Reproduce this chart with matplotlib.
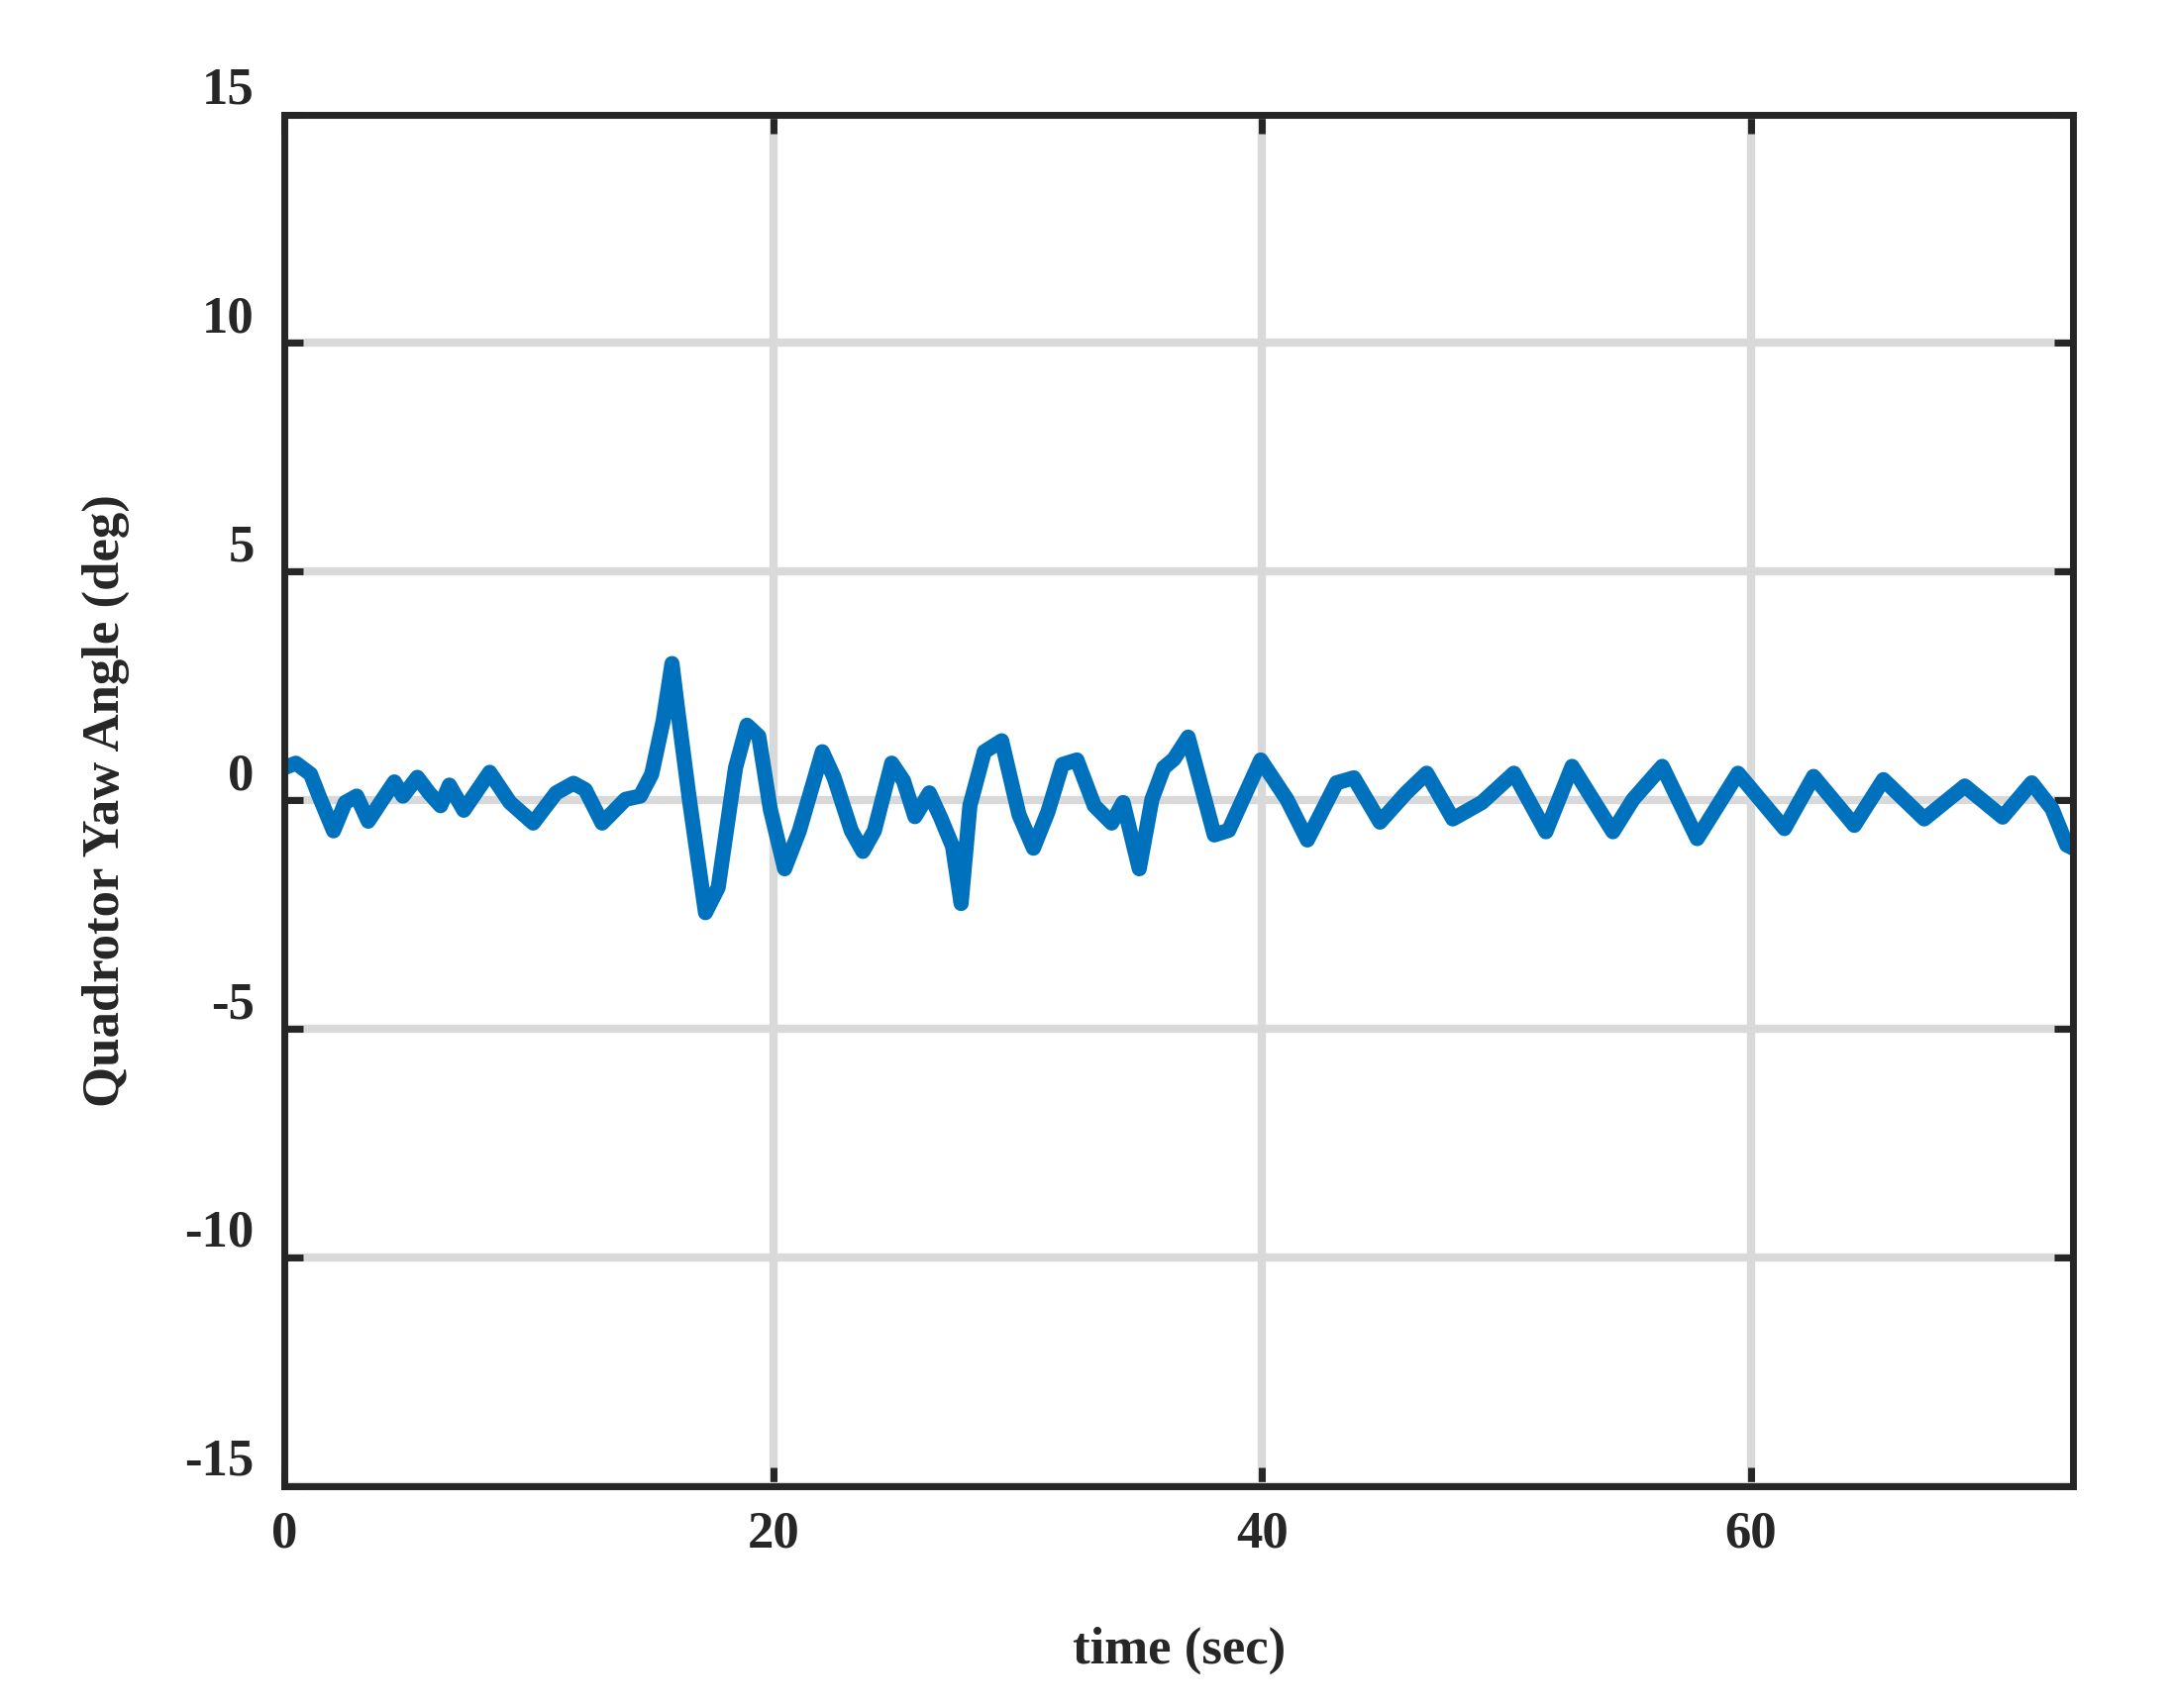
import numpy as np
import matplotlib.pyplot as plt

t = [0, 0.47, 1.07, 1.42, 2.01, 2.49, 2.96, 3.43, 4.02, 4.5, 4.85, 5.44, 5.92, 6.39,
     6.75, 7.34, 8.4, 9.23, 10.18, 11.12, 11.83, 12.31, 13.0, 13.96, 14.56, 15.03, 15.5,
     15.86, 16.1, 16.57, 17.23, 17.75, 18.46, 18.93, 19.41, 19.88, 20.47, 21.07, 22.01,
     22.49, 23.2, 23.67, 24.14, 24.85, 25.33, 25.8, 26.39, 26.86, 27.34, 27.69, 28.05,
     28.64, 29.35, 30.06, 30.65, 31.24, 31.83, 32.43, 33.14, 33.85, 34.32, 34.98, 35.5,
     35.98, 36.4, 36.98, 38.05, 38.64, 39.95, 41.02, 41.86, 43.05, 43.76, 44.83, 45.9,
     46.74, 47.81, 49.0, 50.31, 51.62, 52.69, 54.36, 55.19, 56.38, 57.81, 59.48, 61.38,
     62.57, 64.24, 65.43, 67.1, 68.76, 70.31, 71.5, 72.33, 72.93, 73.2]
yaw = [0.71, 0.81, 0.57, 0.09, -0.67, -0.05, 0.09, -0.46, 0.02, 0.4, 0.09, 0.5, 0.16,
       -0.12, 0.33, -0.22, 0.61, -0.05, -0.5, 0.16, 0.37, 0.23, -0.5, 0.02, 0.09, 0.57,
       1.74, 2.99, 1.95, 0.02, -2.46, -1.91, 0.71, 1.64, 1.4, -0.19, -1.5, -0.67, 1.06,
       0.5, -0.67, -1.12, -0.67, 0.81, 0.43, -0.36, 0.16, -0.39, -1.01, -2.26, -0.12,
       1.06, 1.3, -0.32, -1.05, -0.26, 0.78, 0.88, -0.12, -0.5, -0.05, -1.5, 0.02, 0.71,
       0.9, 1.38, -0.76, -0.66, 0.88, 0.02, -0.87, 0.38, 0.49, -0.48, 0.16, 0.59, -0.41,
       -0.05, 0.59, -0.69, 0.74, -0.69, 0.02, 0.74, -0.84, 0.59, -0.62, 0.52, -0.55, 0.45,
       -0.41, 0.31, -0.37, 0.38, -0.19, -0.98, -1.05]

plt.rcParams['font.family'] = ['Liberation Serif', 'DejaVu Serif']
plt.rcParams['font.weight'] = 'bold'
plt.rcParams['axes.unicode_minus'] = False

fig = plt.figure(figsize=(21.92, 17.25), dpi=100)
ax = fig.add_axes([0.131, 0.130, 0.824, 0.803])
ax.plot(t, yaw, color='#0072BD', lw=11, solid_joinstyle='round', solid_capstyle='round')
ax.set_xlim(0, 73.2)
ax.set_ylim(-15, 15)
ax.set_xticks([0, 20, 40, 60])
ax.set_yticks([-15, -10, -5, 0, 5, 10, 15])
ax.grid(True, color='#d9d9d9', lw=6)
ax.set_axisbelow(True)
for s in ax.spines.values():
    s.set_linewidth(5)
    s.set_color('#262626')
ax.tick_params(direction='in', length=14, width=5, color='#262626', labelsize=38,
               top=True, right=True, labelcolor='#262626')
ax.tick_params(axis='x', pad=18)
ax.tick_params(axis='y', pad=22)
for lab in ax.get_yticklabels():
    lab.set_va('bottom')
ax.set_xlabel('time (sec)', fontsize=38, fontweight='bold', color='#262626', labelpad=50)
ax.set_ylabel('Quadrotor Yaw Angle (deg)', fontsize=38, fontweight='bold', color='#262626', labelpad=40)
fig.savefig('out.png', dpi=100)
